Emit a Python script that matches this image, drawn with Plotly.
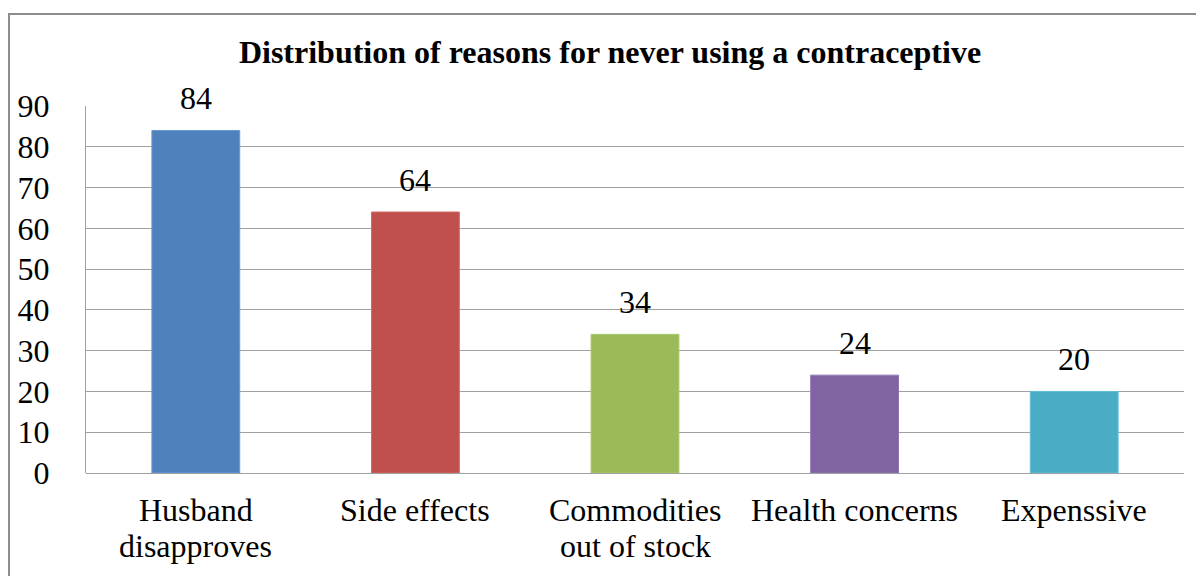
import plotly.graph_objects as go

categories = ["Husband<br>disapproves", "Side effects", "Commodities<br>out of stock", "Health concerns", "Expenssive"]
values = [84, 64, 34, 24, 20]
colors = ["#4F81BD", "#C0504D", "#9BBB59", "#8064A2", "#4BACC6"]
border_colors = ["#6A9AD6", "#D06A67", "#A9C96A", "#9077B4", "#62C0DA"]
y_ticks = [0, 10, 20, 30, 40, 50, 60, 70, 80, 90]

font = "Liberation Serif"

# plot area geometry in pixels
L, R, T, B = 86, 1184, 106, 473
H = B - T

fig = go.Figure()
fig.add_trace(go.Bar(
    x=categories, y=values,
    marker=dict(color=colors, line=dict(color=border_colors, width=1)),
    width=0.4,
    cliponaxis=False,
))

annotations = []
# data labels
for c, v in zip(categories, values):
    annotations.append(dict(x=c, y=v, xref="x", yref="y", text=str(v), showarrow=False,
                            yanchor="middle", yshift=32,
                            font=dict(family=font, size=32, color="#000")))
# category labels (line by line)
for c in categories:
    for i, line in enumerate(c.split("<br>")):
        py = 510 + 36 * i
        annotations.append(dict(x=c, y=(B - py) / H, xref="x", yref="paper", text=line,
                                showarrow=False, yanchor="middle",
                                font=dict(family=font, size=32, color="#000")))

fig.update_layout(
    width=1196, height=576,
    margin=dict(l=L, r=1196 - R, t=T, b=576 - B),
    paper_bgcolor="white", plot_bgcolor="white",
    showlegend=False,
    title=dict(text="<b>Distribution of reasons for never using a contraceptive</b>",
               x=610 / 1196, xanchor="center", y=1 - 52 / 576, yanchor="middle",
               font=dict(family=font, size=32, color="#000")),
    font=dict(family=font, size=32, color="#000"),
    xaxis=dict(showgrid=False, showline=False, ticks="", showticklabels=False),
    yaxis=dict(range=[0, 90], tickvals=y_ticks, showgrid=True, gridcolor="#A0A0A0", gridwidth=1,
               showline=True, linecolor="#A0A0A0", linewidth=1, zeroline=True, zerolinecolor="#A0A0A0",
               zerolinewidth=1, tickfont=dict(family=font, size=32, color="#000"), ticks="",
               ticklabelstandoff=29),
    annotations=annotations,
    shapes=[dict(type="rect", xref="paper", yref="paper",
                 x0=(9 - L) / (R - L), x1=1.05, y0=-0.5, y1=(B - 14) / H,
                 line=dict(color="#8C8C8C", width=2), fillcolor="rgba(0,0,0,0)", layer="below")],
)

fig.write_html("out.html")
